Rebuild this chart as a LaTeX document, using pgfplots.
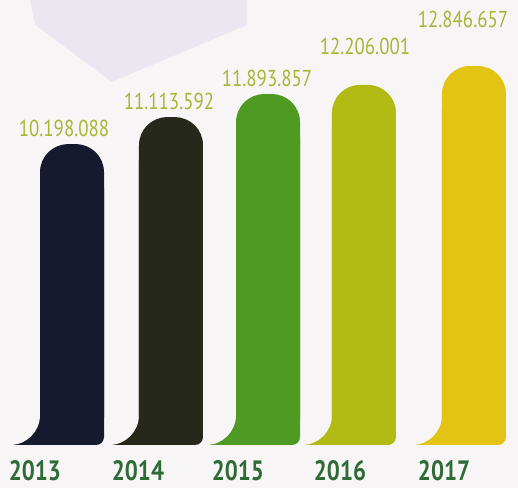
\documentclass[border=0pt]{standalone}
\usepackage{pgfplots}
\pgfplotsset{compat=1.18}
\usepackage{fontspec}
\setmainfont{PT Sans}[FakeStretch=0.82]
\definecolor{bg}{HTML}{F8F5F6}
\definecolor{lav}{HTML}{ECE6F0}
\definecolor{c13}{HTML}{151A2E}
\definecolor{c14}{HTML}{25281B}
\definecolor{c15}{HTML}{4E9A22}
\definecolor{c16}{HTML}{B2BB14}
\definecolor{c17}{HTML}{E3C414}
\definecolor{valc}{HTML}{A6B736}
\definecolor{yearc}{HTML}{2E6B36}

% #1 x, #2 value (millions), #3 colour, #4 label, #5 yshift, #6 xshift
\newcommand{\onebar}[6]{%
 \addplot[ybar, bar width=40pt, bar shift=-42pt, fill=#3, draw=none] coordinates {(#1,1.017)};
 \addplot[ybar, bar width=60pt, bar shift=-62pt, fill=bg, draw=none, rounded corners=30pt] coordinates {(#1,2.034)};
 \addplot[ybar, bar width=64pt, bar shift=0pt, fill=#3, draw=none, rounded corners=28pt,
   nodes near coords={#4},
   every node near coord/.append style={font=\fontsize{23}{25}\selectfont, text=valc, inner sep=0pt, anchor=south, yshift=#5, xshift=#6}]
   coordinates {(#1,#2)};
 \addplot[ybar, bar width=64pt, bar shift=0pt, fill=#3, draw=none, rounded corners=8pt, y filter/.expression={y-1.2}] coordinates {(#1,#2)};
}

\begin{document}
\begin{tikzpicture}
\begin{axis}[
  scale only axis,
  width=518pt, height=488pt,
  xmin=-0.731, xmax=4.528,
  ymin=-1.458, ymax=15.085,
  axis background/.style={fill=bg},
  axis line style={draw=none},
  xtick={-0.376,0.670,1.685,2.721,3.777},
  xticklabels={2013,2014,2015,2016,2017},
  xtick style={draw=none},
  major tick length=0pt,
  ytick=\empty,
  xticklabel style={font=\bfseries\fontsize{28}{30}\selectfont, text=yearc, anchor=base, inner sep=0pt, yshift=7pt},
  clip=true,
]
\fill[lav] (rel axis cs:0.058,1) -- (rel axis cs:0.477,1) -- (rel axis cs:0.477,0.949) -- (rel axis cs:0.216,0.832) -- (rel axis cs:0.068,0.949) -- cycle;
\onebar{4.081}{12.846657}{c17}{12.846.657}{38pt}{-11pt}
\onebar{2.964}{12.206001}{c16}{12.206.001}{30pt}{1pt}
\onebar{1.990}{11.893857}{c15}{11.893.857}{7pt}{-1pt}
\onebar{1.005}{11.113592}{c14}{11.113.592}{7pt}{-2pt}
\onebar{0}{10.198088}{c13}{10.198.088}{7pt}{-8pt}
\end{axis}
\end{tikzpicture}
\end{document}
